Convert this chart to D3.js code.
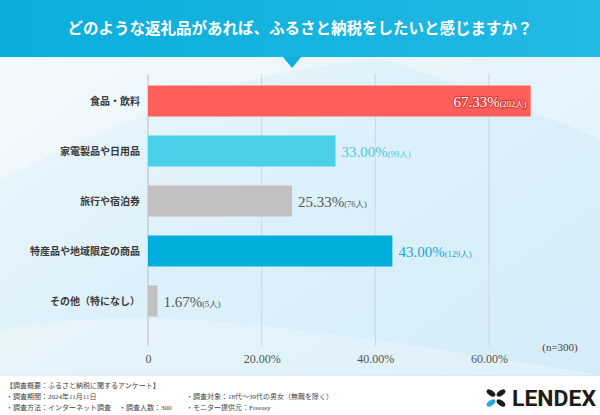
<!DOCTYPE html>
<html>
<head>
<meta charset="utf-8">
<script src="https://cdn.jsdelivr.net/npm/d3@7"></script>
<style>
  html, body { margin: 0; padding: 0; background: #fff; }
  svg { display: block; }
</style>
</head>
<body>
<svg id="chart" width="600" height="415"></svg>
<script>
// data
const title = "どのような返礼品があれば、ふるさと納税をしたいと感じますか？";
const categories = ["食品・飲料", "家電製品や日用品", "旅行や宿泊券", "特産品や地域限定の商品", "その他（特になし）"];
const percents = [67.33, 33.00, 25.33, 43.00, 1.67];
const counts = [202, 99, 76, 129, 5];
const barColors = ["#ff5f5a", "#4bd0ea", "#c2c0c0", "#00afdb", "#c2c0c0"];
const labelColors = ["#ffffff", "#4bc6e2", "#555555", "#19a9d6", "#555555"];
const tickValues = [0, 20, 40, 60];
const tickLabels = ["0", "20.00%", "40.00%", "60.00%"];
const sampleNote = "(n=300)";
const footerLines = [
  ["【調査概要：ふるさと納税に関するアンケート】"],
  ["・調査期間：2024年11月11日", "・調査対象：18代～39代の男女（無職を除く）"],
  ["・調査方法：インターネット調査", "・調査人数：300", "・モニター提供元：Freeasy"]
];

const serif = "'Liberation Serif', 'DejaVu Serif', 'Noto Sans CJK JP', serif";
const svg = d3.select("#chart");
const W = 600, H = 415;

// background
const defs = svg.append("defs");
const bg = defs.append("linearGradient").attr("id", "bg")
  .attr("x1", "0").attr("y1", "0").attr("x2", "1").attr("y2", "1");
bg.append("stop").attr("offset", "0%").attr("stop-color", "#eef8fc");
bg.append("stop").attr("offset", "50%").attr("stop-color", "#dcf0f9");
bg.append("stop").attr("offset", "100%").attr("stop-color", "#d3ecf8");
const hd = defs.append("linearGradient").attr("id", "hd")
  .attr("x1", "0").attr("y1", "0").attr("x2", "1").attr("y2", "0");
hd.append("stop").attr("offset", "0%").attr("stop-color", "#0aaedb");
hd.append("stop").attr("offset", "100%").attr("stop-color", "#22b9e3");

svg.append("rect").attr("width", W).attr("height", H).attr("fill", "url(#bg)");

// soft swooshes in the background
svg.append("path")
  .attr("d", "M0,180 C120,120 260,60 420,57 L0,57 Z")
  .attr("fill", "#ffffff").attr("opacity", 0.35);
svg.append("path")
  .attr("d", "M0,330 C150,300 320,330 600,375 L600,375 L0,375 Z")
  .attr("fill", "#ffffff").attr("opacity", 0.25);
svg.append("path")
  .attr("d", "M380,57 C470,90 560,120 600,140 L600,57 Z")
  .attr("fill", "#ffffff").attr("opacity", 0.3);

// header band with pointer
svg.append("rect").attr("width", W).attr("height", 57).attr("fill", "url(#hd)");
svg.append("path").attr("d", "M283,57 L301,57 L292,68 Z").attr("fill", "#0db0dc");
svg.append("text")
  .attr("x", W / 2).attr("y", 34)
  .attr("text-anchor", "middle")
  .attr("fill", "#ffffff")
  .attr("font-family", serif)
  .attr("font-weight", "bold")
  .attr("font-size", "15.5px")
  .text(title);

// scales
const x = d3.scaleLinear().domain([0, 60]).range([148, 489]);
const y = d3.scaleBand().domain(categories).range([76, 326]).paddingInner(0.38).paddingOuter(0.19);

// grid
const plot = svg.append("g");
plot.selectAll(".grid").data(tickValues).join("line")
  .attr("class", "grid")
  .attr("x1", d => x(d)).attr("x2", d => x(d))
  .attr("y1", 74).attr("y2", 346)
  .attr("stroke", d => d === 0 ? "#b8bcc0" : "#cfd6db")
  .attr("stroke-width", 1);

// bars
plot.selectAll(".bar").data(categories).join("rect")
  .attr("class", "bar")
  .attr("x", x(0))
  .attr("y", d => y(d))
  .attr("width", (d, i) => x(percents[i]) - x(0))
  .attr("height", y.bandwidth())
  .attr("fill", (d, i) => barColors[i]);

// category labels
plot.selectAll(".cat").data(categories).join("text")
  .attr("class", "cat")
  .attr("x", x(0) - 8)
  .attr("y", d => y(d) + y.bandwidth() / 2)
  .attr("dy", "0.35em")
  .attr("text-anchor", "end")
  .attr("fill", "#3a3a3a")
  .attr("font-family", serif)
  .attr("font-weight", "bold")
  .attr("font-size", "10px")
  .text(d => d);

// value labels
const vals = plot.selectAll(".val").data(categories).join("text")
  .attr("class", "val")
  .attr("y", d => y(d) + y.bandwidth() / 2)
  .attr("dy", "0.35em")
  .attr("font-family", serif)
  .attr("fill", (d, i) => labelColors[i]);
vals.each(function (d, i) {
  const t = d3.select(this);
  const inside = i === 0;
  t.attr("x", inside ? x(percents[i]) - 4 : x(percents[i]) + 6)
   .attr("text-anchor", inside ? "end" : "start");
  if (inside) {
    t.attr("stroke", "#d9403b").attr("stroke-width", 2.4)
     .attr("paint-order", "stroke").attr("stroke-linejoin", "round");
  }
  t.append("tspan").attr("font-size", "15px").text(percents[i].toFixed(2) + "%");
  t.append("tspan").attr("font-size", "8.5px").text("(" + counts[i] + "人)");
});

// axis
const axis = svg.append("g")
  .attr("transform", "translate(0,346)")
  .call(d3.axisBottom(x).tickValues(tickValues).tickFormat((d, i) => tickLabels[i]).tickSize(0).tickPadding(8));
axis.select(".domain").remove();
axis.selectAll("text")
  .attr("fill", "#555")
  .attr("font-family", serif)
  .attr("font-size", "12px");

svg.append("text")
  .attr("x", 560).attr("y", 351)
  .attr("text-anchor", "middle")
  .attr("fill", "#444")
  .attr("font-family", serif)
  .attr("font-size", "11px")
  .text(sampleNote);

// footer
svg.append("rect").attr("x", 0).attr("y", 376).attr("width", W).attr("height", 39).attr("fill", "#ffffff");
const footX = [[6], [6, 186], [6, 119, 186]];
footerLines.forEach((line, r) => {
  line.forEach((s, c) => {
    svg.append("text")
      .attr("x", footX[r][c])
      .attr("y", 388 + r * 11)
      .attr("fill", "#444")
      .attr("font-family", serif)
      .attr("font-size", "7px")
      .text(s);
  });
});

// logo
const logo = svg.append("g").attr("transform", "translate(496,398)");
const leaves = [[-5, -5, "#1c1c1c"], [5, -5, "#1c1c1c"], [-5, 5, "#2aa7e8"], [5, 5, "#1c1c1c"]];
logo.selectAll("ellipse").data(leaves).join("ellipse")
  .attr("cx", d => d[0]).attr("cy", d => d[1])
  .attr("rx", 5).attr("ry", 2.6)
  .attr("transform", d => `rotate(${d[0] * d[1] > 0 ? 35 : -35} ${d[0]} ${d[1]})`)
  .attr("fill", d => d[2]);
svg.append("text")
  .attr("x", 512).attr("y", 406)
  .attr("fill", "#1c1c1c")
  .attr("font-family", "'Roboto', 'Liberation Sans', sans-serif")
  .attr("font-weight", "bold")
  .attr("font-size", "22px")
  .attr("textLength", 84)
  .attr("lengthAdjust", "spacingAndGlyphs")
  .text("LENDEX");
</script>
</body>
</html>
